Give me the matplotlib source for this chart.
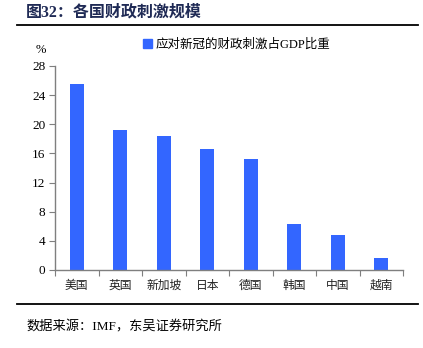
import numpy as np
import matplotlib
matplotlib.use("Agg")
import matplotlib.pyplot as plt
from matplotlib.lines import Line2D
import matplotlib.patches as mpatches

plt.rcParams['font.family'] = ['Liberation Serif', 'Noto Sans CJK SC']

countries = ["美国", "英国", "新加坡", "日本", "德国", "韩国", "中国", "越南"]
stimulus_pct = [25.5, 19.2, 18.4, 16.6, 15.3, 6.3, 4.75, 1.7]
y_ticks = [0, 4, 8, 12, 16, 20, 24, 28]

BAR_COLOR = "#3366FF"
AXIS_COLOR = "#7F7F7F"
W, H = 423, 348

fig = plt.figure(figsize=(W / 100, H / 100), dpi=100)
ax = fig.add_axes([55 / W, 1 - 270 / H, 348 / W, 204 / H])

x = np.arange(len(countries))
ax.bar(x, stimulus_pct, width=0.32, color=BAR_COLOR, zorder=2)

ax.set_xlim(-0.5, len(countries) - 0.5)
ax.set_ylim(0, 28)
ax.set_yticks(y_ticks)
ax.set_yticklabels([str(t) for t in y_ticks], fontsize=9.5)

# category boundaries get the tick marks, centres get the labels
ax.set_xticks(np.arange(len(countries) + 1) - 0.5)
ax.set_xticklabels([])
ax.set_xticks(x, minor=True)
ax.set_xticklabels(countries, minor=True, fontsize=8.5, color="#222222")
ax.tick_params(axis='x', which='minor', length=0, pad=7)
ax.tick_params(axis='x', which='major', length=4, direction='out', color=AXIS_COLOR)
ax.tick_params(axis='y', length=4, direction='out', color=AXIS_COLOR, pad=3)

for side in ("top", "right"):
    ax.spines[side].set_visible(False)
for side in ("left", "bottom"):
    ax.spines[side].set_color(AXIS_COLOR)
    ax.spines[side].set_linewidth(1.0)

fig.text(41 / W, 1 - 50 / H, "%", fontsize=9, ha='center', va='center')

# legend entry
leg_patch = mpatches.Patch(color=BAR_COLOR, label="应对新冠的财政刺激占GDP比重")
fig.legend(handles=[leg_patch], loc='center left', bbox_to_anchor=(137 / W, 1 - 45 / H),
           frameon=False, fontsize=9, handlelength=0.7, handleheight=0.7,
           handletextpad=0.3, borderpad=0)

fig.text(26 / W, 1 - 12 / H, "图32：各国财政刺激规模", fontsize=11.5, fontweight='bold',
         color="#1F2A55", ha='left', va='center')
fig.add_artist(Line2D([17 / W, 418 / W], [1 - 25 / H, 1 - 25 / H], color='black', linewidth=1.3))
fig.add_artist(Line2D([17 / W, 418 / W], [1 - 304 / H, 1 - 304 / H], color='black', linewidth=1.3))
fig.text(26 / W, 1 - 327 / H, "数据来源：IMF，东吴证券研究所", fontsize=9.5,
         ha='left', va='center')

fig.savefig("out.png", dpi=100)
